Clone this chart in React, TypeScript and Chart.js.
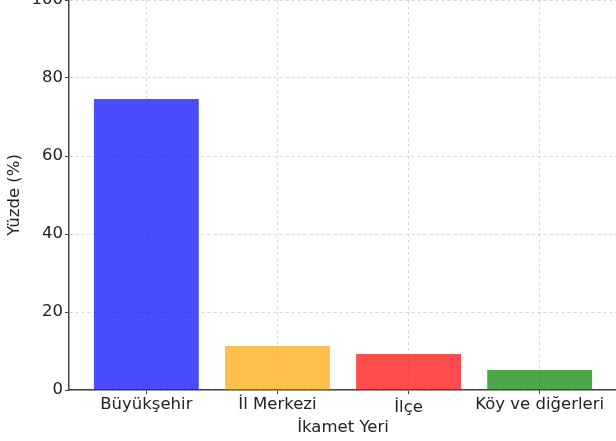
import React, { useEffect, useRef } from "react";
import { Chart, registerables } from "chart.js";

Chart.register(...registerables);

const categories = ["Büyükşehir", "İl Merkezi", "İlçe", "Köy ve diğerleri"];
const values = [74.6, 11.3, 9.2, 5.1];
const barColors = [
  "rgba(0,0,255,0.7)",
  "rgba(255,165,0,0.7)",
  "rgba(255,0,0,0.7)",
  "rgba(0,128,0,0.7)",
];
const yTicks = [0, 20, 40, 60, 80, 100];
const xTitle = "İkamet Yeri";
const yTitle = "Yüzde (%)";

const FONT = "'DejaVu Sans', sans-serif";
const FS = 16.5;

export default function App() {
  const ref = useRef<HTMLCanvasElement>(null);
  useEffect(() => {
    if (!ref.current) return;
    const chart = new Chart(ref.current, {
      type: "bar",
      data: {
        datasets: [
          {
            data: values.map((v, i) => ({ x: i, y: v })),
            backgroundColor: barColors,
            borderWidth: 0,
            barPercentage: 1,
            categoryPercentage: 0.8,
          },
        ],
      },
      options: {
        responsive: false,
        animation: false,
        events: [],
        layout: { padding: { top: 20, right: 23, left: 0, bottom: 0 } },
        plugins: { legend: { display: false }, tooltip: { enabled: false } },
        scales: {
          x: {
            type: "linear",
            min: -0.59,
            max: 3.59,
            offset: false,
            z: 1,
            afterBuildTicks: (s: any) => {
              s.ticks = categories.map((_, i) => ({ value: i }));
            },
            afterFit: (s: any) => {
              s.height = 51;
            },
            ticks: {
              callback: (v: any) => categories[v as number] ?? "",
              color: "#222",
              font: (ctx: any) => {
                const label = categories[ctx?.tick?.value as number] ?? "";
                // matplotlib top-aligns the text box; labels without tall-descender mix sit lower
                const low = label === "İlçe";
                return { family: FONT, size: FS, lineHeight: low ? 1.6 : 1.2 };
              },
              padding: 1,
              maxRotation: 0,
              autoSkip: false,
            },
            grid: {
              offset: false,
              color: "rgba(0,0,0,0.15)",
              tickColor: "#444",
              tickLength: 4,
              tickBorderDash: [],
            },
            border: { color: "#444", width: 1.5, dash: [3, 3] },
            title: {
              display: true,
              text: xTitle,
              color: "#222",
              font: { family: FONT, size: FS },
              padding: { top: 0, bottom: 3 },
            },
          },
          y: {
            min: 0,
            max: 100,
            z: 1,
            afterBuildTicks: (s: any) => {
              s.ticks = yTicks.map((v) => ({ value: v }));
            },
            afterFit: (s: any) => {
              s.width = 69;
            },
            ticks: {
              color: "#222",
              font: { family: FONT, size: FS },
              padding: 2,
            },
            grid: {
              color: "rgba(0,0,0,0.15)",
              tickColor: "#444",
              tickLength: 4,
              tickBorderDash: [],
            },
            border: { color: "#444", width: 1.5, dash: [3, 3] },
            title: {
              display: true,
              text: yTitle,
              color: "#222",
              font: { family: FONT, size: FS },
              padding: { top: 5, bottom: 0 },
            },
          },
        },
      },
    });
    return () => chart.destroy();
  }, []);
  return (
    <div style={{ position: "fixed", left: 0, top: 0, width: 616, height: 441, overflow: "hidden", background: "#fff" }}>
      <canvas ref={ref} width={640} height={461} style={{ position: "absolute", left: 0, top: -20 }} />
    </div>
  );
}
